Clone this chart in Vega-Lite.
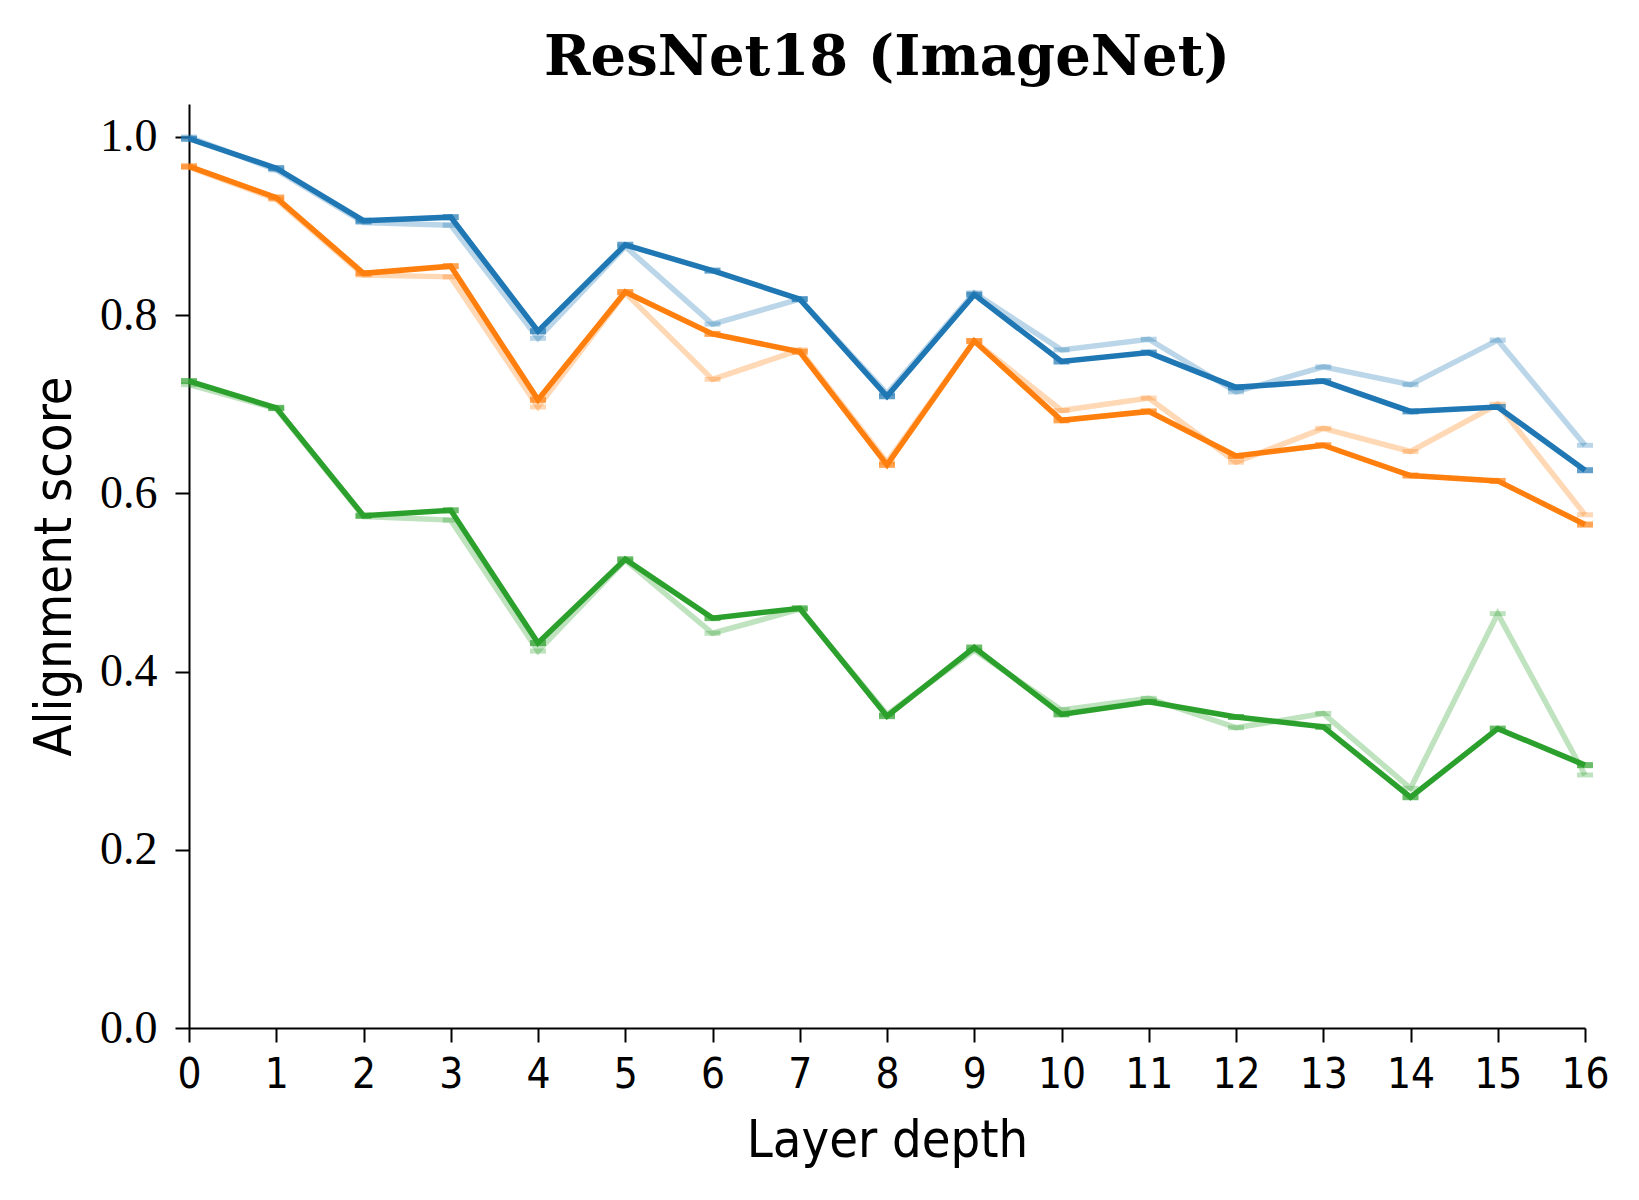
{
  "$schema": "https://vega.github.io/schema/vega-lite/v6.json",
  "width": 1396,
  "height": 924,
  "autosize": "none",
  "padding": {"left": 189, "top": 104, "right": 54, "bottom": 172},
  "background": "white",
  "config": {
    "view": {"stroke": null},
    "axis": {"grid": false, "domainColor": "black", "tickColor": "black", "domainWidth": 2, "tickWidth": 2, "tickSize": 14, "labelColor": "black", "titleColor": "black", "titleFontWeight": "normal"}
  },
  "title": {"text": "ResNet18 (ImageNet)", "font": "DejaVu Serif", "fontSize": 56, "fontWeight": "bold", "color": "black", "anchor": "middle", "offset": 17},
  "data": {"values": [
    {"layer":0,"metric":"A","variant":"solid","score":0.998},
    {"layer":1,"metric":"A","variant":"solid","score":0.965},
    {"layer":2,"metric":"A","variant":"solid","score":0.906},
    {"layer":3,"metric":"A","variant":"solid","score":0.910},
    {"layer":4,"metric":"A","variant":"solid","score":0.782},
    {"layer":5,"metric":"A","variant":"solid","score":0.879},
    {"layer":6,"metric":"A","variant":"solid","score":0.850},
    {"layer":7,"metric":"A","variant":"solid","score":0.818},
    {"layer":8,"metric":"A","variant":"solid","score":0.709},
    {"layer":9,"metric":"A","variant":"solid","score":0.823},
    {"layer":10,"metric":"A","variant":"solid","score":0.748},
    {"layer":11,"metric":"A","variant":"solid","score":0.758},
    {"layer":12,"metric":"A","variant":"solid","score":0.719},
    {"layer":13,"metric":"A","variant":"solid","score":0.726},
    {"layer":14,"metric":"A","variant":"solid","score":0.692},
    {"layer":15,"metric":"A","variant":"solid","score":0.697},
    {"layer":16,"metric":"A","variant":"solid","score":0.626},
    {"layer":0,"metric":"A","variant":"faded","score":1.0},
    {"layer":1,"metric":"A","variant":"faded","score":0.963},
    {"layer":2,"metric":"A","variant":"faded","score":0.904},
    {"layer":3,"metric":"A","variant":"faded","score":0.901},
    {"layer":4,"metric":"A","variant":"faded","score":0.774},
    {"layer":5,"metric":"A","variant":"faded","score":0.877},
    {"layer":6,"metric":"A","variant":"faded","score":0.790},
    {"layer":7,"metric":"A","variant":"faded","score":0.818},
    {"layer":8,"metric":"A","variant":"faded","score":0.712},
    {"layer":9,"metric":"A","variant":"faded","score":0.825},
    {"layer":10,"metric":"A","variant":"faded","score":0.761},
    {"layer":11,"metric":"A","variant":"faded","score":0.773},
    {"layer":12,"metric":"A","variant":"faded","score":0.714},
    {"layer":13,"metric":"A","variant":"faded","score":0.742},
    {"layer":14,"metric":"A","variant":"faded","score":0.722},
    {"layer":15,"metric":"A","variant":"faded","score":0.772},
    {"layer":16,"metric":"A","variant":"faded","score":0.654},
    {"layer":0,"metric":"B","variant":"solid","score":0.967},
    {"layer":1,"metric":"B","variant":"solid","score":0.932},
    {"layer":2,"metric":"B","variant":"solid","score":0.847},
    {"layer":3,"metric":"B","variant":"solid","score":0.855},
    {"layer":4,"metric":"B","variant":"solid","score":0.705},
    {"layer":5,"metric":"B","variant":"solid","score":0.826},
    {"layer":6,"metric":"B","variant":"solid","score":0.779},
    {"layer":7,"metric":"B","variant":"solid","score":0.759},
    {"layer":8,"metric":"B","variant":"solid","score":0.632},
    {"layer":9,"metric":"B","variant":"solid","score":0.771},
    {"layer":10,"metric":"B","variant":"solid","score":0.682},
    {"layer":11,"metric":"B","variant":"solid","score":0.692},
    {"layer":12,"metric":"B","variant":"solid","score":0.642},
    {"layer":13,"metric":"B","variant":"solid","score":0.654},
    {"layer":14,"metric":"B","variant":"solid","score":0.620},
    {"layer":15,"metric":"B","variant":"solid","score":0.614},
    {"layer":16,"metric":"B","variant":"solid","score":0.565},
    {"layer":0,"metric":"B","variant":"faded","score":0.966},
    {"layer":1,"metric":"B","variant":"faded","score":0.930},
    {"layer":2,"metric":"B","variant":"faded","score":0.845},
    {"layer":3,"metric":"B","variant":"faded","score":0.843},
    {"layer":4,"metric":"B","variant":"faded","score":0.697},
    {"layer":5,"metric":"B","variant":"faded","score":0.825},
    {"layer":6,"metric":"B","variant":"faded","score":0.728},
    {"layer":7,"metric":"B","variant":"faded","score":0.761},
    {"layer":8,"metric":"B","variant":"faded","score":0.635},
    {"layer":9,"metric":"B","variant":"faded","score":0.771},
    {"layer":10,"metric":"B","variant":"faded","score":0.693},
    {"layer":11,"metric":"B","variant":"faded","score":0.707},
    {"layer":12,"metric":"B","variant":"faded","score":0.635},
    {"layer":13,"metric":"B","variant":"faded","score":0.673},
    {"layer":14,"metric":"B","variant":"faded","score":0.647},
    {"layer":15,"metric":"B","variant":"faded","score":0.700},
    {"layer":16,"metric":"B","variant":"faded","score":0.576},
    {"layer":0,"metric":"C","variant":"solid","score":0.726},
    {"layer":1,"metric":"C","variant":"solid","score":0.696},
    {"layer":2,"metric":"C","variant":"solid","score":0.575},
    {"layer":3,"metric":"C","variant":"solid","score":0.581},
    {"layer":4,"metric":"C","variant":"solid","score":0.432},
    {"layer":5,"metric":"C","variant":"solid","score":0.526},
    {"layer":6,"metric":"C","variant":"solid","score":0.460},
    {"layer":7,"metric":"C","variant":"solid","score":0.471},
    {"layer":8,"metric":"C","variant":"solid","score":0.350},
    {"layer":9,"metric":"C","variant":"solid","score":0.427},
    {"layer":10,"metric":"C","variant":"solid","score":0.352},
    {"layer":11,"metric":"C","variant":"solid","score":0.366},
    {"layer":12,"metric":"C","variant":"solid","score":0.349},
    {"layer":13,"metric":"C","variant":"solid","score":0.338},
    {"layer":14,"metric":"C","variant":"solid","score":0.259},
    {"layer":15,"metric":"C","variant":"solid","score":0.336},
    {"layer":16,"metric":"C","variant":"solid","score":0.295},
    {"layer":0,"metric":"C","variant":"faded","score":0.722},
    {"layer":1,"metric":"C","variant":"faded","score":0.695},
    {"layer":2,"metric":"C","variant":"faded","score":0.574},
    {"layer":3,"metric":"C","variant":"faded","score":0.570},
    {"layer":4,"metric":"C","variant":"faded","score":0.423},
    {"layer":5,"metric":"C","variant":"faded","score":0.525},
    {"layer":6,"metric":"C","variant":"faded","score":0.443},
    {"layer":7,"metric":"C","variant":"faded","score":0.470},
    {"layer":8,"metric":"C","variant":"faded","score":0.352},
    {"layer":9,"metric":"C","variant":"faded","score":0.424},
    {"layer":10,"metric":"C","variant":"faded","score":0.357},
    {"layer":11,"metric":"C","variant":"faded","score":0.370},
    {"layer":12,"metric":"C","variant":"faded","score":0.337},
    {"layer":13,"metric":"C","variant":"faded","score":0.353},
    {"layer":14,"metric":"C","variant":"faded","score":0.269},
    {"layer":15,"metric":"C","variant":"faded","score":0.465},
    {"layer":16,"metric":"C","variant":"faded","score":0.284}
  ]},
  "encoding": {
    "x": {"field": "layer", "type": "quantitative", "scale": {"domain": [0, 16], "nice": false, "zero": false},
      "axis": {"title": "Layer depth", "values": [0,1,2,3,4,5,6,7,8,9,10,11,12,13,14,15,16], "format": "d",
        "labelFont": "Liberation Sans Narrow, DejaVu Sans Condensed, Liberation Sans", "labelFontSize": 42, "labelPadding": 12, "labelFlush": false,
        "titleFont": "Liberation Sans Narrow, DejaVu Sans Condensed, Liberation Sans", "titleFontSize": 52, "titlePadding": 20}},
    "y": {"field": "score", "type": "quantitative", "scale": {"domain": [0, 1.037], "nice": false, "zero": true},
      "axis": {"title": "Alignment score", "values": [0, 0.2, 0.4, 0.6, 0.8, 1.0], "format": ".1f",
        "labelFont": "Liberation Serif", "labelFontSize": 46, "labelPadding": 18,
        "titleFont": "Liberation Sans Narrow, DejaVu Sans Condensed, Liberation Sans", "titleFontSize": 52, "titlePadding": 18}},
    "color": {"field": "metric", "type": "nominal", "scale": {"domain": ["A", "B", "C"], "range": ["#1f77b4", "#ff7f0e", "#2ca02c"]}, "legend": null}
  },
  "layer": [
    {"transform": [{"filter": "datum.variant === 'faded'"}],
     "mark": {"type": "line", "strokeWidth": 5.5, "opacity": 0.3},
     "encoding": {"detail": {"field": "metric"}}},
    {"transform": [{"filter": "datum.variant === 'faded'"}],
     "mark": {"type": "tick", "size": 16, "thickness": 5, "opacity": 0.3, "orient": "horizontal"}},
    {"transform": [{"filter": "datum.variant === 'solid'"}],
     "mark": {"type": "line", "strokeWidth": 5.5},
     "encoding": {"detail": {"field": "metric"}}},
    {"transform": [{"filter": "datum.variant === 'solid'"}],
     "mark": {"type": "tick", "size": 16, "thickness": 6, "orient": "horizontal"}}
  ]
}
